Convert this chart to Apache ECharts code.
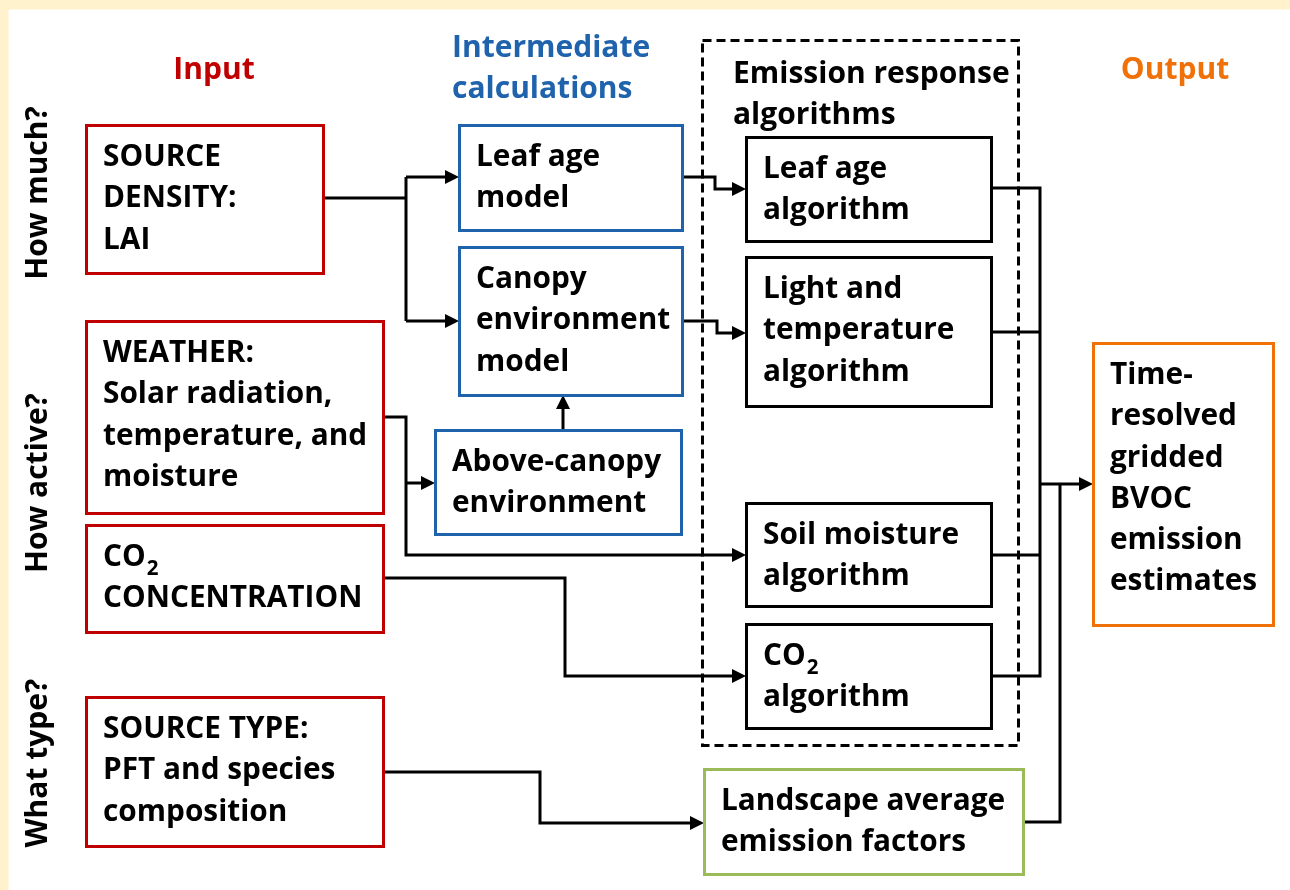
<!DOCTYPE html>
<html><head><meta charset="utf-8">
<script src="https://cdn.jsdelivr.net/npm/echarts@6/dist/echarts.min.js"></script>
<style>html,body{margin:0;padding:0;background:#FFF2CC}#c{width:1290px;height:890px}</style>
</head><body><div id="c"></div>
<script>
// ---- Diagram content ----
const boxKeys = ['density','weather','co2in','type','leafModel','canopyModel','aboveCanopy','leafAlg','lightAlg','soilAlg','co2Alg','landscape','output'];
const boxLabels = {
  density: ['SOURCE', 'DENSITY:', 'LAI'],
  weather: ['WEATHER:', 'Solar radiation,', 'temperature, and', 'moisture'],
  co2in: ['CO{sub|2}', 'CONCENTRATION'],
  type: ['SOURCE TYPE:', 'PFT and species', 'composition'],
  leafModel: ['Leaf age', 'model'],
  canopyModel: ['Canopy', 'environment', 'model'],
  aboveCanopy: ['Above-canopy', 'environment'],
  leafAlg: ['Leaf age', 'algorithm'],
  lightAlg: ['Light and', 'temperature', 'algorithm'],
  soilAlg: ['Soil moisture', 'algorithm'],
  co2Alg: ['CO{sub|2}', 'algorithm'],
  landscape: ['Landscape average', 'emission factors'],
  output: ['Time-', 'resolved', 'gridded', 'BVOC', 'emission', 'estimates']
};
const boxGroup = {
  density:'input', weather:'input', co2in:'input', type:'input',
  leafModel:'inter', canopyModel:'inter', aboveCanopy:'inter',
  leafAlg:'alg', lightAlg:'alg', soilAlg:'alg', co2Alg:'alg',
  landscape:'factor', output:'output'
};
// box extents in diagram units [left, top, right, bottom]
const boxExtents = [
  [86,125,323,273],
  [86,321,383,513],
  [86,525,383,632],
  [86,697,383,846],
  [459,125,682,230],
  [459,247,682,395],
  [435,430,681,534],
  [746,137,991,241],
  [746,257,991,406],
  [746,503,991,606],
  [746,624,991,728],
  [704,769,1023,874],
  [1093,343,1273,625]
];
const frameExtent = [[702,40,1018,745]];
const panelExtent = [[8,9,1290,890]];
// connectors: polyline vertices, arrow = arrowhead at the end
const connectors = [
  {pts:[[323,198],[406,198]], arrow:false},
  {pts:[[406,177],[406,321]], arrow:false},
  {pts:[[406,177],[459,177]], arrow:true},
  {pts:[[406,321],[459,321]], arrow:true},
  {pts:[[383,417],[406,417],[406,555],[746,555]], arrow:true},
  {pts:[[406,483],[435,483]], arrow:true},
  {pts:[[563,430],[563,395]], arrow:true},
  {pts:[[383,578],[565,578],[565,676],[746,676]], arrow:true},
  {pts:[[383,772],[540,772],[540,823],[704,823]], arrow:true},
  {pts:[[682,177],[715,177],[715,189],[746,189]], arrow:true},
  {pts:[[682,321],[717,321],[717,333],[746,333]], arrow:true},
  {pts:[[991,188],[1040,188],[1040,676],[991,676]], arrow:false},
  {pts:[[991,332],[1040,332]], arrow:false},
  {pts:[[991,555],[1040,555]], arrow:false},
  {pts:[[1040,484],[1093,484]], arrow:true},
  {pts:[[1060,484],[1060,822],[1023,822]], arrow:false}
];
const headingTexts = ['Input', 'Intermediate\ncalculations', 'Output', 'Emission response\nalgorithms'];
const headingGroup = ['input', 'inter', 'output', 'alg'];
const headingAnchor = [[214,68,'center'],[452,46,'left'],[1175,68,'center'],[733,72,'left']];
const sideTexts = ['How much?', 'How active?', 'What type?'];
const sideAnchor = [[38,193],[38,483],[38,763]];

// ---- Styles ----
const groupColor = {input:'#C00000', inter:'#1F63AD', alg:'#000000', factor:'#9BBB59', output:'#EF7108'};
const FONT = '"Open Sans", "Noto Sans", sans-serif';
const FW = 700, FS = 29.8, LH = 41.3, PADX = 17, PADY = 32.5;

const chart = echarts.init(document.getElementById('c'), null, {renderer:'canvas'});

function rectOf(api, ext){
  const p0 = api.coord([ext[0], ext[1]]);
  const p1 = api.coord([ext[2], ext[3]]);
  return {x:Math.round(p0[0])+0.5, y:Math.round(p0[1])+0.5, width:Math.round(p1[0]-p0[0]), height:Math.round(p1[1]-p0[1])};
}
const richSub = {sub:{fontFamily:FONT, fontWeight:FW, fontSize:20.5, padding:[24,0,0,1], fill:'#000'}};

chart.setOption({
  animation:false,
  backgroundColor:'#FFF2CC',
  grid:{left:0,right:0,top:0,bottom:0},
  xAxis:{type:'value', min:0, max:1290, show:false},
  yAxis:{type:'value', min:0, max:890, inverse:true, show:false},
  series:[
    { // white panel
      type:'custom', coordinateSystem:'cartesian2d', data:panelExtent, silent:true, z:1,
      renderItem:(params, api)=>({type:'rect', shape:rectOf(api, panelExtent[params.dataIndex]), style:{fill:'#ffffff'}})
    },
    { // dashed frame
      type:'custom', coordinateSystem:'cartesian2d', data:frameExtent, silent:true, z:2,
      renderItem:(params, api)=>({type:'rect', shape:rectOf(api, frameExtent[params.dataIndex]), style:{fill:'none', stroke:'#000', lineWidth:3, lineDash:[9,5]}})
    },
    { // connectors
      type:'custom', coordinateSystem:'cartesian2d', data:connectors.map((c,i)=>[i]), silent:true, z:3,
      renderItem:(params, api)=>{
        const c = connectors[params.dataIndex];
        const pts = c.pts.map(p=>api.coord(p));
        const children = [];
        const drawPts = pts.slice();
        const AL = 14, AW = 7;
        if (c.arrow) {
          const a = pts[pts.length-2], b = pts[pts.length-1];
          const dx = b[0]-a[0], dy = b[1]-a[1], len = Math.hypot(dx,dy);
          const ux = dx/len, uy = dy/len;
          const base = [b[0]-ux*AL, b[1]-uy*AL];
          drawPts[drawPts.length-1] = [b[0]-ux*(AL-2), b[1]-uy*(AL-2)];
          children.push({type:'polygon', shape:{points:[b, [base[0]-uy*AW, base[1]+ux*AW], [base[0]+uy*AW, base[1]-ux*AW]]}, style:{fill:'#000'}});
        }
        children.unshift({type:'polyline', shape:{points:drawPts}, style:{stroke:'#000', lineWidth:3, fill:'none', lineJoin:'miter'}});
        return {type:'group', children};
      }
    },
    { // boxes with texts
      type:'custom', coordinateSystem:'cartesian2d', data:boxExtents, silent:true, z:4,
      renderItem:(params, api)=>{
        const ext = boxExtents[params.dataIndex];
        const key = boxKeys[params.dataIndex];
        const color = groupColor[boxGroup[key]];
        const children = [{type:'rect', shape:rectOf(api, ext), style:{fill:'#fff', stroke:color, lineWidth:3}}];
        boxLabels[key].forEach((t,i)=>{
          const pt = api.coord([ext[0]+PADX, ext[1]+PADY+i*LH]);
          children.push({type:'text', x:pt[0], y:pt[1], style:{
            text:t, fontFamily:FONT, fontWeight:FW, fontSize:FS, fill:'#000',
            align:'left', verticalAlign:'middle', rich:richSub
          }});
        });
        return {type:'group', children};
      }
    },
    { // column headings
      type:'custom', coordinateSystem:'cartesian2d', data:headingTexts.map((t,i)=>[i]), silent:true, z:5,
      renderItem:(params, api)=>{
        const i = params.dataIndex, a = headingAnchor[i];
        const pt = api.coord([a[0], a[1]]);
        return {type:'text', x:pt[0], y:pt[1], style:{
          text:headingTexts[i], fontFamily:FONT, fontWeight:FW, fontSize:30, lineHeight:LH,
          fill:groupColor[headingGroup[i]], align:a[2], verticalAlign:'top',
          y:-18
        }};
      }
    },
    { // side questions
      type:'custom', coordinateSystem:'cartesian2d', data:sideTexts.map((t,i)=>[i]), silent:true, z:5,
      renderItem:(params, api)=>{
        const i = params.dataIndex, a = sideAnchor[i];
        const pt = api.coord([a[0], a[1]]);
        return {type:'text', x:pt[0], y:pt[1], rotation:Math.PI/2, style:{
          text:sideTexts[i], fontFamily:FONT, fontWeight:FW, fontSize:30,
          fill:'#000', align:'center', verticalAlign:'middle'
        }};
      }
    }
  ]
});
</script>
</body></html>
